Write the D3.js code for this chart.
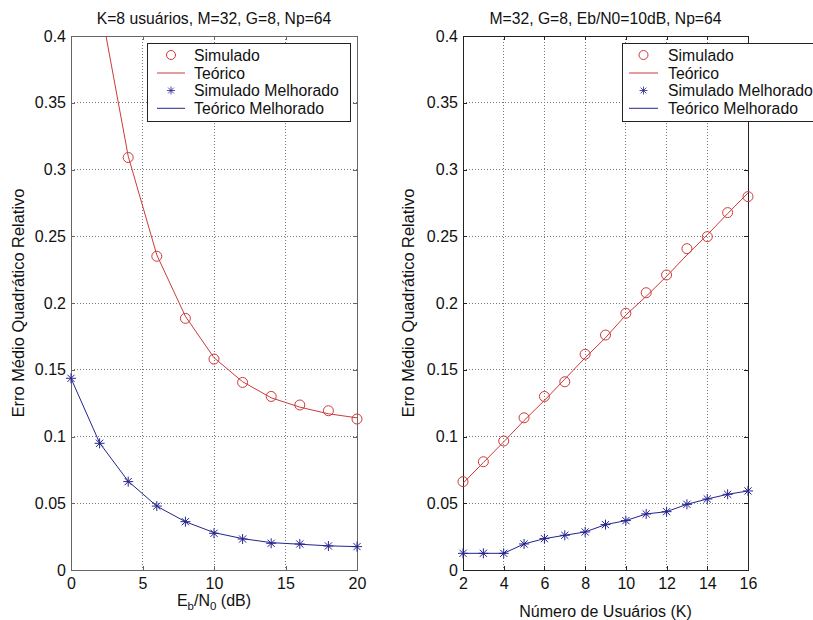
<!DOCTYPE html>
<html>
<head>
<meta charset="UTF-8">
<script src="https://d3js.org/d3.v7.min.js"></script>
<style>
  body { margin: 0; background: #fff; }
  svg text {
    font-family: "Liberation Sans", Arial, Helvetica, sans-serif;
    fill: #111;
  }
  .axis text { font-size: 16px; fill: #111; }
  .axis path, .axis line { fill: none; shape-rendering: crispEdges; }
  .grid line { stroke: #777; stroke-dasharray: 1,2; shape-rendering: crispEdges; }
  .title { font-size: 15.7px; }
  .label { font-size: 16px; }
  .ylabel { font-size: 16.4px; }
  .legend text { font-size: 15.8px; }
  .curve { fill: none; stroke-width: 1; }
</style>
</head>
<body>
<svg width="813" height="620"></svg>
<script>
// ---- data ----
var ebn0 = [0, 2, 4, 6, 8, 10, 12, 14, 16, 18, 20];
// the two first simulated points lie above the plotted range
var simLeft     = [null, null, 0.309, 0.235, 0.1885, 0.158, 0.1405, 0.130, 0.1236, 0.1193, 0.1131];
var teoLeft     = [0.62, 0.426, 0.310, 0.236, 0.190, 0.159, 0.141, 0.129, 0.122, 0.117, 0.114];
var simMelLeft  = [0.1436, 0.0949, 0.0662, 0.0479, 0.0362, 0.0275, 0.0232, 0.0200, 0.0195, 0.0180, 0.0175];
var teoMelLeft  = [0.1436, 0.0952, 0.0665, 0.0478, 0.0362, 0.0280, 0.0235, 0.0205, 0.0193, 0.0181, 0.0175];

var usuarios     = [2, 3, 4, 5, 6, 7, 8, 9, 10, 11, 12, 13, 14, 15, 16];
var simRight     = [0.0662, 0.0811, 0.0966, 0.114, 0.130, 0.141, 0.1616, 0.176, 0.1923, 0.2077, 0.221, 0.2407, 0.2497, 0.2677, 0.2797];
var teoRight     = [0.065, 0.0805, 0.096, 0.112, 0.127, 0.143, 0.159, 0.174, 0.191, 0.205, 0.220, 0.236, 0.251, 0.267, 0.2824];
var simMelRight  = [0.0125, 0.0125, 0.0125, 0.0195, 0.0235, 0.026, 0.0285, 0.034, 0.037, 0.042, 0.0437, 0.0492, 0.0532, 0.0567, 0.0592];
var teoMelRight  = [0.0125, 0.0125, 0.0125, 0.0195, 0.0235, 0.026, 0.0285, 0.034, 0.037, 0.042, 0.0437, 0.0492, 0.0532, 0.0567, 0.0592];

var yTicks      = [0, 0.05, 0.1, 0.15, 0.2, 0.25, 0.3, 0.35, 0.4];
var yTickLabels = ['0', '0.05', '0.1', '0.15', '0.2', '0.25', '0.3', '0.35', '0.4'];
var xTicksLeft  = [0, 5, 10, 15, 20];
var xTicksRight = [2, 4, 6, 8, 10, 12, 14, 16];
var legendNames = ['Simulado', 'Teórico', 'Simulado Melhorado', 'Teórico Melhorado'];

var RED = '#cc3a3a', BLUE = '#24248f';

var svg = d3.select('svg');

var starPath = 'M-5,0H5M0,-5V5M-3.6,-3.6L3.6,3.6M-3.6,3.6L3.6,-3.6';

function panel(cfg) {
  var x = d3.scaleLinear().domain(cfg.xDomain).range(cfg.xRange);
  var y = d3.scaleLinear().domain([0, 0.4]).range([570, 36]);
  var w = cfg.xRange[1] - cfg.xRange[0], h = 570 - 36;
  var g = svg.append('g');

  // clip for lines
  g.append('clipPath').attr('id', cfg.id)
    .append('rect').attr('x', cfg.xRange[0]).attr('y', 36).attr('width', w).attr('height', h);

  // grid
  var grid = g.append('g').attr('class', 'grid');
  grid.selectAll('.gx').data(cfg.xTicks.slice(1, -1)).enter().append('line')
    .attr('x1', function(d) { return x(d); }).attr('x2', function(d) { return x(d); })
    .attr('y1', 36).attr('y2', 570);
  grid.selectAll('.gy').data(yTicks.slice(1, -1)).enter().append('line')
    .attr('x1', cfg.xRange[0]).attr('x2', cfg.xRange[1])
    .attr('y1', function(d) { return y(d); }).attr('y2', function(d) { return y(d); });

  // axes, ticks inward on all four sides
  var col = cfg.axisColor;
  g.append('g').attr('class', 'axis').attr('transform', 'translate(0,570)')
    .call(d3.axisBottom(x).tickValues(cfg.xTicks).tickSizeInner(-4).tickSizeOuter(0).tickPadding(8))
    .call(function(a) { a.selectAll('path,line').attr('stroke', col); a.selectAll('text').attr('fill', '#111'); });
  g.append('g').attr('class', 'axis').attr('transform', 'translate(0,36)')
    .call(d3.axisTop(x).tickValues(cfg.xTicks).tickSizeInner(-4).tickSizeOuter(0).tickFormat(''))
    .call(function(a) { a.selectAll('path,line').attr('stroke', col); });
  g.append('g').attr('class', 'axis').attr('transform', 'translate(' + cfg.xRange[0] + ',0)')
    .call(d3.axisLeft(y).tickValues(yTicks).tickSizeInner(-4).tickSizeOuter(0).tickPadding(5)
      .tickFormat(function(d, i) { return yTickLabels[i]; }))
    .call(function(a) { a.selectAll('path,line').attr('stroke', col); a.selectAll('text').attr('fill', '#111'); });
  g.append('g').attr('class', 'axis').attr('transform', 'translate(' + cfg.xRange[1] + ',0)')
    .call(d3.axisRight(y).tickValues(yTicks).tickSizeInner(-4).tickSizeOuter(0).tickFormat(''))
    .call(function(a) { a.selectAll('path,line').attr('stroke', col); });

  // curves
  var line = d3.line()
    .defined(function(d) { return d[1] != null; })
    .x(function(d) { return x(d[0]); })
    .y(function(d) { return y(d[1]); });
  function pts(vals) { return cfg.xs.map(function(v, i) { return [v, vals[i]]; }); }

  var lines = g.append('g').attr('clip-path', 'url(#' + cfg.id + ')');
  lines.append('path').attr('class', 'curve').attr('stroke', RED).attr('d', line(pts(cfg.teo)));
  lines.append('path').attr('class', 'curve').attr('stroke', BLUE).attr('d', line(pts(cfg.teoMel)));

  g.append('g').selectAll('circle')
    .data(pts(cfg.sim).filter(function(d) { return d[1] != null; }))
    .enter().append('circle')
      .attr('cx', function(d) { return x(d[0]); })
      .attr('cy', function(d) { return y(d[1]); })
      .attr('r', 5).attr('fill', 'none').attr('stroke', RED);
  g.append('g').selectAll('path')
    .data(pts(cfg.simMel))
    .enter().append('path')
      .attr('transform', function(d) { return 'translate(' + x(d[0]) + ',' + y(d[1]) + ')'; })
      .attr('d', starPath).attr('fill', 'none').attr('stroke', BLUE);

  // title and labels
  var cx = (cfg.xRange[0] + cfg.xRange[1]) / 2;
  g.append('text').attr('class', 'title').attr('x', cx).attr('y', 24)
    .attr('text-anchor', 'middle').text(cfg.title);
  g.append('text').attr('class', 'ylabel')
    .attr('transform', 'translate(' + cfg.yLabelX + ',303) rotate(-90)')
    .attr('text-anchor', 'middle').text('Erro Médio Quadrático Relativo');
  cfg.xLabel(g.append('text').attr('class', 'label').attr('x', cx).attr('text-anchor', 'middle'));

  // legend
  var L = cfg.legend;
  var lg = g.append('g').attr('class', 'legend');
  lg.append('rect').attr('x', L.x).attr('y', 43.5).attr('width', L.w).attr('height', 78)
    .attr('fill', '#fff').attr('stroke', '#222').attr('shape-rendering', 'crispEdges');
  var rowsY = [55, 73, 90.5, 108.3];
  legendNames.forEach(function(name, i) {
    var yy = rowsY[i], mx = (L.s0 + L.s1) / 2;
    if (i === 0) lg.append('circle').attr('cx', mx).attr('cy', yy).attr('r', 4.5).attr('fill', 'none').attr('stroke', RED);
    if (i === 2) lg.append('path').attr('transform', 'translate(' + mx + ',' + yy + ') scale(0.8)')
      .attr('d', starPath).attr('fill', 'none').attr('stroke', BLUE);
    if (i === 1 || i === 3) lg.append('line').attr('x1', L.s0).attr('x2', L.s1).attr('y1', yy).attr('y2', yy)
      .attr('stroke', i === 1 ? RED : BLUE);
    lg.append('text').attr('x', L.t).attr('y', yy).attr('dy', '0.35em').text(name);
  });
}

panel({
  id: 'clipL', xs: ebn0, xDomain: [0, 20], xRange: [71, 357], xTicks: xTicksLeft,
  sim: simLeft, teo: teoLeft, simMel: simMelLeft, teoMel: teoMelLeft,
  axisColor: '#666', yLabelX: 23.5,
  title: 'K=8 usuários, M=32, G=8, Np=64',
  xLabel: function(t) {
    t.attr('y', 606);
    t.append('tspan').text('E');
    t.append('tspan').attr('font-size', '11.5px').attr('dy', 4).text('b');
    t.append('tspan').attr('dy', -4).text('/N');
    t.append('tspan').attr('font-size', '11.5px').attr('dy', 4).text('0');
    t.append('tspan').attr('dy', -4).text(' (dB)');
  },
  legend: { x: 147.5, w: 202.5, s0: 157, s1: 185, t: 194 }
});

panel({
  id: 'clipR', xs: usuarios, xDomain: [2, 16], xRange: [463, 748], xTicks: xTicksRight,
  sim: simRight, teo: teoRight, simMel: simMelRight, teoMel: teoMelRight,
  axisColor: '#222', yLabelX: 413.5,
  title: 'M=32, G=8, Eb/N0=10dB, Np=64',
  xLabel: function(t) { t.attr('y', 617).text('Número de Usuários (K)'); },
  legend: { x: 622.5, w: 200, s0: 629, s1: 658, t: 668 }
});
</script>
</body>
</html>
